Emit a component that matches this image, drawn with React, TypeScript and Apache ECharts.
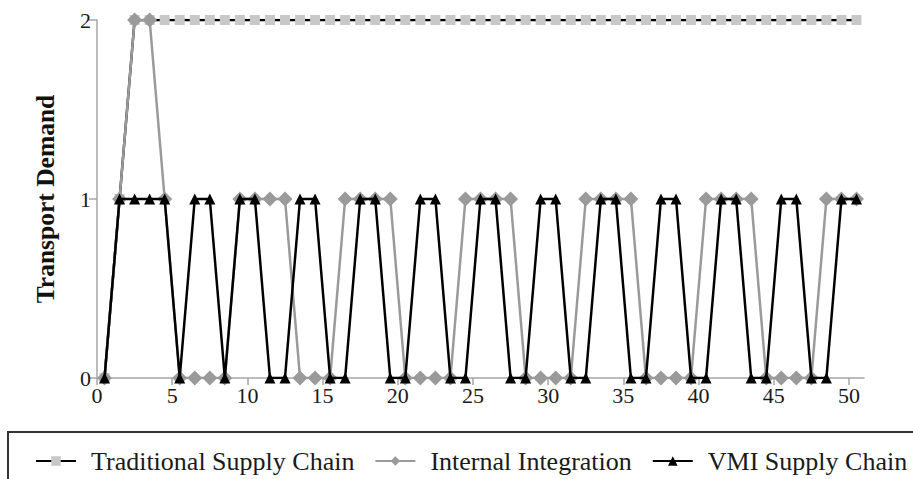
import React, { useEffect, useRef } from "react";
import * as echarts from "echarts";

const seriesNames = ["Traditional Supply Chain", "Internal Integration", "VMI Supply Chain"];

const traditional = [
  0, 1, 2, 2, 2, 2, 2, 2, 2, 2, 2, 2, 2, 2, 2, 2, 2, 2, 2, 2, 2, 2, 2, 2, 2, 2,
  2, 2, 2, 2, 2, 2, 2, 2, 2, 2, 2, 2, 2, 2, 2, 2, 2, 2, 2, 2, 2, 2, 2, 2, 2,
];

const internal = [
  0, 1, 2, 2, 1, 0, 0, 0, 0, 1, 1, 1, 1, 0, 0, 0, 1, 1, 1, 1, 0, 0, 0, 0, 1, 1,
  1, 1, 0, 0, 0, 0, 1, 1, 1, 1, 0, 0, 0, 0, 1, 1, 1, 1, 0, 0, 0, 0, 1, 1, 1,
];

const vmi = [
  0, 1, 1, 1, 1, 0, 1, 1, 0, 1, 1, 0, 0, 1, 1, 0, 0, 1, 1, 0, 0, 1, 1, 0, 0, 1,
  1, 0, 0, 1, 1, 0, 0, 1, 1, 0, 0, 1, 1, 0, 0, 1, 1, 0, 0, 1, 1, 0, 0, 1, 1,
];

const xTicks = [0, 5, 10, 15, 20, 25, 30, 35, 40, 45, 50];
const yTicks = [0, 1, 2];

const FONT = "'Liberation Serif', 'Times New Roman', serif";

const toPoints = (vals: number[]) => vals.map((v, i) => [i + 0.5, v]);

export default function App() {
  const ref = useRef<HTMLDivElement>(null);
  useEffect(() => {
    if (!ref.current) return;
    const chart = echarts.init(ref.current, undefined, { renderer: "svg" });
    chart.setOption({
      animation: false,
      backgroundColor: "#ffffff",
      textStyle: { fontFamily: FONT },
      grid: { left: 97, right: 49, top: 20, bottom: 101, containLabel: false },
      xAxis: {
        type: "value",
        min: 0,
        max: 51,
        interval: 5,
        axisLine: { show: true, lineStyle: { color: "#a6a6a6", width: 1.5 } },
        axisTick: { show: true, length: 7, lineStyle: { color: "#a6a6a6", width: 1.5 } },
        splitLine: { show: false },
        axisLabel: {
          fontFamily: FONT,
          fontSize: 22,
          color: "#1a1a1a",
          margin: 6,
          formatter: (v: number) => (xTicks.includes(v) ? String(v) : ""),
          showMaxLabel: false,
        },
      },
      yAxis: {
        type: "value",
        min: 0,
        max: 2,
        interval: 1,
        name: "Transport Demand",
        nameLocation: "middle",
        nameGap: 39,
        nameTextStyle: { fontFamily: FONT, fontSize: 25.5, fontWeight: "bold", color: "#111" },
        axisLine: { show: true, lineStyle: { color: "#a6a6a6", width: 1.5 } },
        axisTick: { show: true, length: 8, lineStyle: { color: "#a6a6a6", width: 1.5 } },
        splitLine: { show: false },
        axisLabel: {
          fontFamily: FONT,
          fontSize: 22,
          color: "#1a1a1a",
          margin: 6,
          formatter: (v: number) => (yTicks.includes(v) ? String(v) : ""),
        },
      },
      legend: {
        left: 30,
        top: 443,
        itemGap: 20,
        itemWidth: 40,
        itemHeight: 12,
        textStyle: { fontFamily: FONT, fontSize: 26, color: "#1a1a1a", padding: [0, 0, 0, 10] },
        data: seriesNames,
      },
      graphic: [
        {
          type: "rect",
          shape: { x: 8, y: 432, width: 1000, height: 120 },
          style: { fill: "none", stroke: "#333333", lineWidth: 2 },
          silent: true,
        },
      ],
      series: [
        {
          name: seriesNames[0],
          type: "line",
          data: toPoints(traditional),
          symbol: "rect",
          symbolSize: 10,
          itemStyle: { color: "#c8c8c8" },
          lineStyle: { color: "#000000", width: 2.5 },
          z: 2,
        },
        {
          name: seriesNames[1],
          type: "line",
          data: toPoints(internal),
          symbol: "diamond",
          symbolSize: 15,
          itemStyle: { color: "#9a9a9a" },
          lineStyle: { color: "#9a9a9a", width: 2.5 },
          z: 3,
        },
        {
          name: seriesNames[2],
          type: "line",
          data: toPoints(vmi),
          symbol: "triangle",
          symbolSize: 11,
          itemStyle: { color: "#000000" },
          lineStyle: { color: "#000000", width: 2.5 },
          z: 4,
        },
      ],
    });
    return () => chart.dispose();
  }, []);
  return (
    <div
      ref={ref}
      style={{ position: "fixed", left: 0, top: 0, width: 913, height: 479 }}
    />
  );
}
